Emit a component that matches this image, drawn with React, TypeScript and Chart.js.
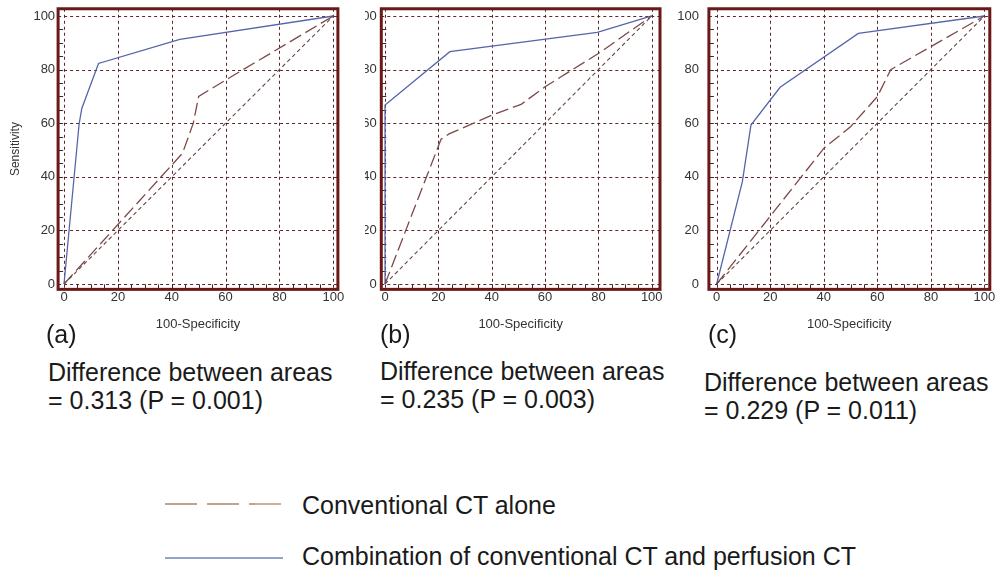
import React, { useEffect, useRef } from 'react';
import { Chart, registerables } from 'chart.js';

Chart.register(...registerables);

// ---------- data ----------
const tickValues = [0, 20, 40, 60, 80, 100];
const minorTickValues = [5, 10, 15, 20, 25, 30, 35, 40, 45, 50, 55, 60, 65, 70, 75, 80, 85, 90, 95];
const diagonalX = [0, 100];
const diagonalY = [0, 100];

// (a)
const aConventionalX = [0, 44, 48, 50, 61, 100];
const aConventionalY = [0, 48.8, 60, 70, 76.7, 100];
const aCombinationX = [0, 5.6, 6.6, 12.8, 43, 100];
const aCombinationY = [0, 59.7, 65.5, 82.3, 91.3, 100];

// (b)
const bConventionalX = [0, 21, 24, 40, 51, 60, 80, 100];
const bConventionalY = [0, 54, 56, 63, 67, 73.6, 86, 100];
const bCombinationX = [0, 0, 24.3, 79.6, 100];
const bCombinationY = [0, 66.8, 86.7, 93.9, 100];

// (c)
const cConventionalX = [0, 40, 50, 60, 65, 100];
const cConventionalY = [0, 50.6, 58.7, 69.9, 80, 100];
const cCombinationX = [0, 9.6, 12.8, 23.7, 52.9, 100];
const cCombinationY = [0, 38.2, 59.3, 73.4, 93.5, 100];

const panelLabels = ['(a)', '(b)', '(c)'];
const differenceLine1 = 'Difference between areas';
const differenceLine2 = ['= 0.313 (P = 0.001)', '= 0.235 (P = 0.003)', '= 0.229 (P = 0.011)'];
const xTitle = '100-Specificity';
const yTitle = 'Sensitivity';
const legendConventional = 'Conventional CT alone';
const legendCombination = 'Combination of conventional CT and perfusion CT';

// ---------- styling ----------
const COMB_COLOR = '#5565aa';
const CONV_COLOR = '#7e4848';
const DIAG_COLOR = '#6a4444';
const GRID_COLOR = '#5a2828';
const FRAME_COLOR = '#6b1818';
const TICK_COLOR = '#333333';
const TEXT_FONT = "'Liberation Sans', Arial, Helvetica, sans-serif";

const zip = (xs: number[], ys: number[]) => xs.map((x, i) => ({ x, y: ys[i] }));

type Panel = {
  conventional: { x: number[]; y: number[] };
  combination: { x: number[]; y: number[] };
  canvasLeft: number;
  canvasWidth: number;
  area: { left: number; right: number; top: number; bottom: number };
  xMin: number;
  xMax: number;
  yTickGap: number;
  yTickFamily: string;
  showYTitle: boolean;
};

const CANVAS_H = 345;
const Y_MIN = -2.0;
const Y_MAX = 102.7;

const panels: Panel[] = [
  {
    conventional: { x: aConventionalX, y: aConventionalY },
    combination: { x: aCombinationX, y: aCombinationY },
    canvasLeft: 0,
    canvasWidth: 362,
    area: { left: 58.1, right: 337.9, top: 8.76, bottom: 289.36 },
    xMin: -2.2,
    xMax: 101.7,
    yTickGap: 3,
    yTickFamily: TEXT_FONT,
    showYTitle: true,
  },
  {
    conventional: { x: bConventionalX, y: bConventionalY },
    combination: { x: bCombinationX, y: bCombinationY },
    canvasLeft: 365,
    canvasWidth: 320,
    area: { left: 381.3, right: 660.0, top: 8.76, bottom: 289.36 },
    xMin: -1.4,
    xMax: 103.1,
    yTickGap: 4.5,
    yTickFamily: TEXT_FONT,
    showYTitle: false,
  },
  {
    conventional: { x: cConventionalX, y: cConventionalY },
    combination: { x: cCombinationX, y: cCombinationY },
    canvasLeft: 665,
    canvasWidth: 345,
    area: { left: 708.9, right: 989.8, top: 8.76, bottom: 289.36 },
    xMin: -2.9,
    xMax: 102.0,
    yTickGap: 10,
    yTickFamily: "'Liberation Sans Narrow', " + TEXT_FONT,
    showYTitle: false,
  },
];

const framePlugin = {
  id: 'rocFrame',
  beforeDatasetsDraw(chart: any) {
    const { ctx, chartArea, scales } = chart;
    const xs = scales.x;
    const ys = scales.y;
    ctx.save();
    ctx.fillStyle = '#ffffff';
    ctx.fillRect(chartArea.left, chartArea.top, chartArea.right - chartArea.left, chartArea.bottom - chartArea.top);
    ctx.strokeStyle = GRID_COLOR;
    ctx.lineWidth = 1;
    ctx.setLineDash([3, 3]);
    tickValues.forEach((v) => {
      const px = Math.round(xs.getPixelForValue(v)) + 0.5;
      ctx.beginPath();
      ctx.moveTo(px, chartArea.top);
      ctx.lineTo(px, chartArea.bottom);
      ctx.stroke();
      const py = Math.round(ys.getPixelForValue(v)) + 0.5;
      ctx.beginPath();
      ctx.moveTo(chartArea.left, py);
      ctx.lineTo(chartArea.right, py);
      ctx.stroke();
    });
    ctx.setLineDash([]);
    ctx.strokeStyle = '#4a2222';
    minorTickValues.forEach((v) => {
      const py = Math.round(ys.getPixelForValue(v)) + 0.5;
      ctx.beginPath();
      ctx.moveTo(chartArea.left, py);
      ctx.lineTo(chartArea.left + 5, py);
      ctx.stroke();
      const px = Math.round(xs.getPixelForValue(v)) + 0.5;
      ctx.beginPath();
      ctx.moveTo(px, chartArea.bottom);
      ctx.lineTo(px, chartArea.bottom - 5);
      ctx.stroke();
    });
    ctx.restore();
  },
  afterDatasetsDraw(chart: any) {
    const { ctx, chartArea } = chart;
    ctx.save();
    ctx.strokeStyle = FRAME_COLOR;
    ctx.lineWidth = 3;
    ctx.strokeRect(chartArea.left, chartArea.top, chartArea.right - chartArea.left, chartArea.bottom - chartArea.top);
    ctx.restore();
  },
};

function RocChart({ panel }: { panel: Panel }) {
  const ref = useRef<HTMLCanvasElement | null>(null);
  useEffect(() => {
    if (!ref.current) return;
    const xAxisH = 42.4;
    const rel = (v: number) => v - panel.canvasLeft;
    const chart = new Chart(ref.current, {
      type: 'line',
      data: {
        datasets: [
          {
            data: zip(diagonalX, diagonalY),
            borderColor: DIAG_COLOR,
            borderWidth: 1.1,
            borderDash: [4, 3],
            pointRadius: 0,
            fill: false,
            tension: 0,
          },
          {
            data: zip(panel.conventional.x, panel.conventional.y),
            borderColor: CONV_COLOR,
            borderWidth: 1.3,
            borderDash: [13, 5],
            pointRadius: 0,
            fill: false,
            tension: 0,
          },
          {
            data: zip(panel.combination.x, panel.combination.y),
            borderColor: COMB_COLOR,
            borderWidth: 1.3,
            pointRadius: 0,
            fill: false,
            tension: 0,
          },
        ],
      },
      options: {
        animation: false,
        responsive: false,
        maintainAspectRatio: false,
        devicePixelRatio: 1,
        layout: {
          padding: {
            left: 0,
            top: panel.area.top,
            right: panel.canvasWidth - rel(panel.area.right),
            bottom: CANVAS_H - panel.area.bottom - xAxisH,
          },
        },
        plugins: {
          legend: { display: false },
          tooltip: { enabled: false },
        },
        scales: {
          x: {
            type: 'linear',
            min: panel.xMin,
            max: panel.xMax,
            afterBuildTicks: (s: any) => {
              s.ticks = tickValues.map((v) => ({ value: v }));
            },
            afterFit: (s: any) => {
              s.height = xAxisH;
            },
            grid: { display: false, drawTicks: false },
            border: { display: false },
            ticks: {
              padding: 0,
              autoSkip: false,
              maxRotation: 0,
              color: TICK_COLOR,
              font: { family: TEXT_FONT, size: 13 },
              callback: (v: any) => String(v),
            },
            title: {
              display: true,
              text: xTitle,
              color: TICK_COLOR,
              font: { family: TEXT_FONT, size: 13 },
              padding: { top: 0, bottom: 0 },
            },
          },
          y: {
            type: 'linear',
            min: Y_MIN,
            max: Y_MAX,
            afterBuildTicks: (s: any) => {
              s.ticks = tickValues.map((v) => ({ value: v }));
            },
            afterFit: (s: any) => {
              s.width = rel(panel.area.left);
            },
            grid: { display: false, drawTicks: true, tickLength: panel.yTickGap },
            border: { display: false },
            ticks: {
              padding: 0,
              autoSkip: false,
              color: TICK_COLOR,
              font: { family: panel.yTickFamily, size: 13 },
              callback: (v: any) => String(v),
            },
            title: {
              display: panel.showYTitle,
              text: yTitle,
              color: TICK_COLOR,
              font: { family: TEXT_FONT, size: 12 },
              padding: { top: 8.8, bottom: 0 },
            },
          },
        },
      },
      plugins: [framePlugin],
    } as any);
    return () => chart.destroy();
  }, [panel]);
  return (
    <canvas
      ref={ref}
      width={panel.canvasWidth}
      height={CANVAS_H}
      style={{
        position: 'absolute',
        left: panel.canvasLeft,
        top: 0,
        width: panel.canvasWidth,
        height: CANVAS_H,
      }}
    />
  );
}

const labelPos = [
  { left: 46, top: 320 },
  { left: 380, top: 320 },
  { left: 708, top: 320 },
];
const diffPos = [
  { left: 48, top: 358 },
  { left: 380, top: 357 },
  { left: 704, top: 368 },
];

export default function App() {
  const textStyle: React.CSSProperties = {
    position: 'absolute',
    fontFamily: TEXT_FONT,
    fontSize: 25,
    lineHeight: '28px',
    color: '#1a1a1a',
    whiteSpace: 'nowrap',
  };
  return (
    <div
      style={{
        position: 'absolute',
        left: 0,
        top: 0,
        width: 997,
        height: 571,
        overflow: 'hidden',
        background: '#ffffff',
      }}
    >
      {panels.map((p, i) => (
        <RocChart key={i} panel={p} />
      ))}
      {panelLabels.map((t, i) => (
        <div key={'l' + i} style={{ ...textStyle, left: labelPos[i].left, top: labelPos[i].top }}>
          {t}
        </div>
      ))}
      {differenceLine2.map((t, i) => (
        <div key={'d' + i} style={{ ...textStyle, left: diffPos[i].left, top: diffPos[i].top }}>
          <div>{differenceLine1}</div>
          <div>{t}</div>
        </div>
      ))}
      <svg
        width={130}
        height={70}
        style={{ position: 'absolute', left: 160, top: 490 }}
      >
        <line x1={5} y1={14} x2={122} y2={14} stroke="#a8866c" strokeWidth={1.3} strokeDasharray="32 10" />
        <line x1={5} y1={68} x2={123} y2={68} stroke="#6f84b8" strokeWidth={1.3} />
      </svg>
      <div style={{ ...textStyle, left: 302, top: 491 }}>{legendConventional}</div>
      <div style={{ ...textStyle, left: 302, top: 542 }}>{legendCombination}</div>
    </div>
  );
}
